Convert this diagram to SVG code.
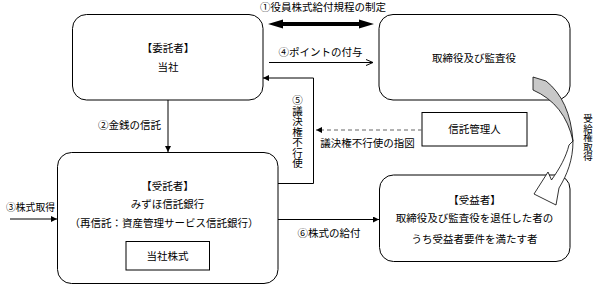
<svg xmlns="http://www.w3.org/2000/svg" width="596" height="286" viewBox="0 0 596 286">
<style>
text{font-family:"Noto Sans CJK JP","Noto Sans CJK SC",sans-serif;font-size:10.5px;fill:#000}
.c{text-anchor:middle}
.box{fill:#fff;stroke:#000;stroke-width:1}
.ln{fill:none;stroke:#000;stroke-width:1}
.vt{writing-mode:vertical-rl;text-orientation:upright;glyph-orientation-vertical:0}
</style>
<defs>
<marker id="ah" markerUnits="userSpaceOnUse" markerWidth="7" markerHeight="7" refX="6" refY="3" orient="auto">
<path d="M0,0 L6,3 L0,6 Z" fill="#000"/>
</marker>
</defs>
<rect width="596" height="286" fill="#fff"/>

<g id="itakusha">
<rect class="box" x="72.5" y="14.5" width="190.5" height="85.5" rx="14"/>
<text class="c" x="168" y="51.5">【委託者】</text>
<text class="c" x="168" y="70.5">当社</text>
</g>

<g id="torishimariyaku">
<rect class="box" x="379" y="14.5" width="191" height="85.5" rx="14"/>
<text class="c" x="474" y="61.5">取締役及び監査役</text>
</g>

<g id="shintakukanrinin">
<rect class="box" x="422" y="112.5" width="105" height="33.5"/>
<text class="c" x="474.5" y="133">信託管理人</text>
</g>

<g id="jutakusha">
<rect class="box" x="57.5" y="152.5" width="220.5" height="131" rx="14"/>
<text class="c" x="167.5" y="189.5">【受託者】</text>
<text class="c" x="167.5" y="208">みずほ信託銀行</text>
<text class="c" x="164" y="226.5">（再信託：資産管理サービス信託銀行）</text>
<g id="toshakabushiki">
<rect class="box" x="126" y="241.5" width="83.5" height="28.5"/>
<text class="c" x="167.5" y="260">当社株式</text>
</g>
</g>

<g id="jyuekisha">
<rect class="box" x="379.5" y="175" width="190.5" height="86.5" rx="14"/>
<text class="c" x="474.5" y="204">【受益者】</text>
<text class="c" x="474.5" y="222">取締役及び監査役を退任した者の</text>
<text class="c" x="474.5" y="243">うち受益者要件を満たす者</text>
</g>

<g id="connectors">
<path d="M268,24 L283,19.5 L283,22 L359,22 L359,19.5 L374,24 L359,28.5 L359,26 L283,26 L283,28.5 Z" fill="#000"/>
<text class="c" x="323" y="10.5">①役員株式給付規程の制定</text>

<line class="ln" x1="269" y1="62.5" x2="373" y2="62.5"/>
<polyline class="ln" points="366,59.5 373,62.5 366,65.5"/>
<text class="c" x="320.5" y="55.5">④ポイントの付与</text>

<path class="ln" d="M278,183.5 H313.5 V78 H263" marker-end="url(#ah)"/>
<text class="vt" x="297.5" y="95">⑤議決権不行使</text>

<line x1="422" y1="130" x2="316" y2="130" stroke="#666" stroke-width="1.2" stroke-dasharray="4,3" marker-end="url(#ah)"/>
<text class="c" x="367.5" y="147">議決権不行使の指図</text>

<line class="ln" x1="168" y1="100" x2="168" y2="152" marker-end="url(#ah)"/>
<text x="161" y="129" text-anchor="end">②金銭の信託</text>

<line class="ln" x1="10" y1="219" x2="57" y2="219" marker-end="url(#ah)"/>
<text class="c" x="30.5" y="210.5" style="font-size:9.8px">③株式取得</text>

<line class="ln" x1="278" y1="219.5" x2="379" y2="219.5" marker-end="url(#ah)"/>
<text class="c" x="329" y="237">⑥株式の給付</text>

<path d="M533,77 L546,81 Q570,100 573,141 Q565,104 533,90 Z" fill="#c8c8c8" stroke="#000" stroke-width="0.8"/>
<path d="M573,141 C573,160 567,175 559,188 L556,205 L534,194 L548,172 L551.5,180 C560,168 566,157 569,145 Z" fill="#fff" stroke="#000" stroke-width="0.8"/>
<text class="vt" x="588" y="114" style="font-size:9.5px">受給権取得</text>
</g>
</svg>
